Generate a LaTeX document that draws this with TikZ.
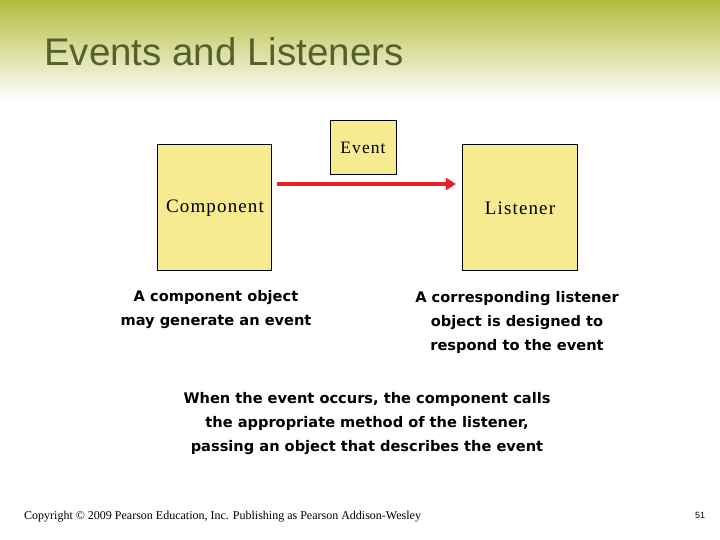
\documentclass[tikz,border=0pt]{standalone}
\usetikzlibrary{arrows.meta}
\usepackage{fontspec}
\setmainfont{Liberation Serif}
\newfontfamily\sansf{Liberation Sans}
\newfontfamily\wides{DejaVu Sans}
\newfontfamily\spaced[LetterSpace=6]{Liberation Serif}
\definecolor{olive}{HTML}{B4BC3C}
\definecolor{titlec}{HTML}{56602E}
\definecolor{boxy}{HTML}{F6EB90}
\definecolor{arr}{HTML}{E8202A}
\begin{document}
\begin{tikzpicture}[x=1pt,y=-1pt,
  box/.style={draw=black,fill=boxy,line width=1.2pt,anchor=north west,inner sep=0pt},
  lbl/.style={font=\wides\bfseries\fontsize{14.6}{24}\selectfont,align=center,inner sep=0pt}]
\useasboundingbox (0,0) rectangle (720,540);
\shade[top color=olive,bottom color=white] (0,0) rectangle (720,100);
\node[anchor=west,text=titlec,font=\sansf\fontsize{38.5}{40}\selectfont,inner sep=0pt] (title) at (44,52) {Events and Listeners};
\node[box,minimum width=114pt,minimum height=126pt] (comp) at (157,144) {};
\node[box,minimum width=115pt,minimum height=126pt] (list) at (462,144) {};
\node[box,minimum width=66pt,minimum height=54pt] (ev) at (330,120) {};
\node[font=\spaced\fontsize{17.5}{20}\selectfont] (evt) at (363,148) {Event};
\node[font=\spaced\fontsize{19}{20}\selectfont] (ct) at (215,208) {Component};
\node[font=\spaced\fontsize{19}{20}\selectfont] (lt) at (520,208) {Listener};
\coordinate (a1) at (277,184);
\coordinate (a2) at (456,184);
\draw[arr,line width=3.5pt,-{Triangle[length=10pt,width=12pt]}] (a1) -- (a2);
\node[lbl] (t1) at (216,310) {A component object\\may generate an event};
\node[lbl] (t2) at (517,322) {A corresponding listener\\object is designed to\\respond to the event};
\node[lbl] (t3) at (367,424) {When the event occurs, the component calls\\the appropriate method of the listener,\\passing an object that describes the event};
\node[anchor=west,font=\fontsize{12}{14}\selectfont,inner sep=0pt] (cp) at (24,517) {Copyright © 2009 Pearson Education, Inc. Publishing as Pearson Addison-Wesley};
\node[font=\sansf\fontsize{9}{10}\selectfont] (pg) at (700,515) {51};
\end{tikzpicture}
\end{document}
